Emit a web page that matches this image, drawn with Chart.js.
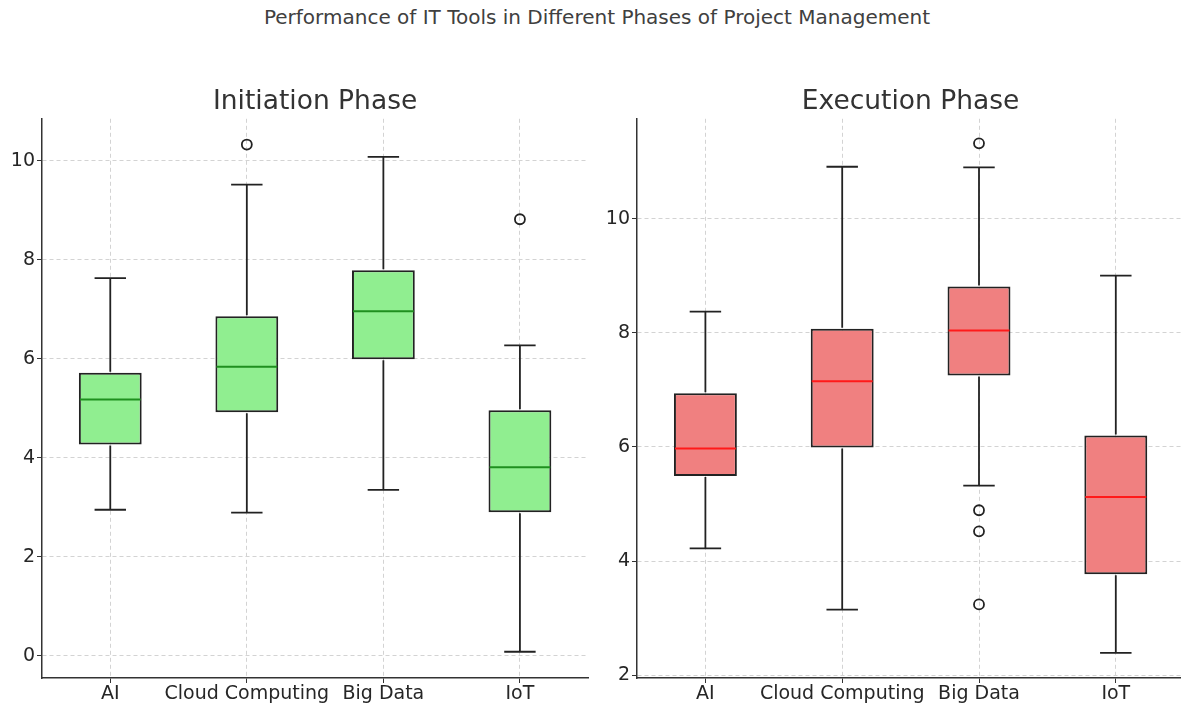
<!DOCTYPE html>
<html>
<head>
<meta charset="utf-8">
<script src="https://cdn.jsdelivr.net/npm/chart.js@4.4.0/dist/chart.umd.min.js"></script>
<style>
  html, body { margin: 0; padding: 0; background: #fff; overflow: hidden; }
  #page { position: relative; width: 1181px; height: 703px; overflow: hidden; }
  #suptitle {
    position: absolute; top: 5px; left: 0; width: 1194px; text-align: center;
    font-family: "DejaVu Sans", sans-serif; font-size: 20px; color: #404040;
  }
  canvas { position: absolute; top: 80px; }
  #left { left: 0; }
  #right { left: 590px; }
</style>
</head>
<body>
<div id="page">
  <div id="suptitle">Performance of IT Tools in Different Phases of Project Management</div>
  <canvas id="left" width="595" height="623"></canvas>
  <canvas id="right" width="601" height="623"></canvas>
</div>
<script>
const tools = ['AI', 'Cloud Computing', 'Big Data', 'IoT'];

// Initiation phase (five-number summaries + outliers)
const initMin    = [2.95, 2.89, 3.35, 0.08];
const initQ1     = [4.27, 4.92, 5.99, 2.90];
const initMedian = [5.18, 5.84, 6.96, 3.81];
const initQ3     = [5.72, 6.86, 7.79, 4.96];
const initMax    = [7.63, 9.52, 10.08, 6.27];
const initOutliers = [[], [10.33], [], [8.82]];
const initTicks = [0, 2, 4, 6, 8, 10];

// Execution phase
const execMin    = [4.22, 3.15, 5.32, 2.39];
const execQ1     = [5.49, 5.99, 7.25, 3.77];
const execMedian = [5.97, 7.15, 8.04, 5.12];
const execQ3     = [6.94, 8.07, 8.81, 6.20];
const execMax    = [8.37, 10.91, 10.90, 9.00];
const execOutliers = [[], [], [11.32, 4.89, 4.52, 3.24], []];
const execTicks = [2, 4, 6, 8, 10];

const boxPlotLines = {
  id: 'boxPlotLines',
  afterDatasetsDraw(chart, args, opts) {
    const ctx = chart.ctx;
    const ys = chart.scales.y;
    const meta = chart.getDatasetMeta(0);
    ctx.save();
    opts.min.forEach((v, i) => {
      const bar = meta.data[i];
      const x = bar.x;
      const half = bar.width / 2;
      const cap = half / 2;
      const yMin = ys.getPixelForValue(opts.min[i]);
      const yMax = ys.getPixelForValue(opts.max[i]);
      const yQ1 = ys.getPixelForValue(opts.q1[i]);
      const yQ3 = ys.getPixelForValue(opts.q3[i]);
      const yMed = ys.getPixelForValue(opts.median[i]);
      ctx.lineWidth = 1.8;
      ctx.strokeStyle = '#222';
      ctx.beginPath();
      ctx.moveTo(x, yQ1 + 1); ctx.lineTo(x, yMin);
      ctx.moveTo(x - cap, yMin); ctx.lineTo(x + cap, yMin);
      ctx.moveTo(x, yQ3 - 1); ctx.lineTo(x, yMax);
      ctx.moveTo(x - cap, yMax); ctx.lineTo(x + cap, yMax);
      ctx.stroke();
      ctx.lineWidth = 2;
      ctx.strokeStyle = opts.medianColor;
      ctx.beginPath();
      ctx.moveTo(x - half + 1, yMed); ctx.lineTo(x + half - 1, yMed);
      ctx.stroke();
    });
    ctx.restore();
  }
};

function makeChart(id, title, q1, q3, med, mn, mx, outliers, ticks, yMin, yMax, axisWidth, fill, medColor, padRight) {
  const outlierPoints = [];
  outliers.forEach((list, i) => list.forEach(v => outlierPoints.push({ x: tools[i], y: v })));
  return new Chart(document.getElementById(id), {
    type: 'bar',
    data: {
      labels: tools,
      datasets: [{
        data: q1.map((v, i) => [v, q3[i]]),
        backgroundColor: fill,
        borderColor: '#222',
        borderWidth: 2,
        borderSkipped: false,
        barPercentage: 0.46,
        categoryPercentage: 1
      }, {
        type: 'line',
        data: outlierPoints,
        showLine: false,
        pointRadius: 5,
        pointBorderWidth: 1.8,
        pointBackgroundColor: 'rgba(255,255,255,0)',
        pointBorderColor: '#222'
      }]
    },
    options: {
      responsive: false,
      animation: false,
      layout: { padding: { left: 0, right: padRight, top: 0, bottom: 0 } },
      scales: {
        x: {
          grid: {
            offset: false,
            color: '#d3d3d3',
            tickColor: '#333',
            tickBorderDash: [],
            tickLength: 5
          },
          border: { display: true, color: '#333', width: 1.5, dash: [4, 3] },
          ticks: { color: '#262626', font: { family: 'DejaVu Sans', size: 19 }, padding: 0, maxRotation: 0, autoSkip: false },
          afterFit: s => { s.height = 25; }
        },
        y: {
          min: yMin,
          max: yMax,
          grid: {
            color: '#d3d3d3',
            tickColor: '#333',
            tickBorderDash: [],
            tickLength: 5
          },
          border: { display: true, color: '#333', width: 1.5, dash: [4, 3] },
          ticks: { color: '#262626', font: { family: 'DejaVu Sans', size: 19 }, padding: 2 },
          afterBuildTicks: s => { s.ticks = ticks.map(v => ({ value: v })); },
          afterFit: s => { s.width = axisWidth; }
        }
      },
      plugins: {
        legend: { display: false },
        tooltip: { enabled: false },
        title: {
          display: true,
          fullSize: false,
          text: title,
          color: '#333',
          font: { family: 'DejaVu Sans', size: 26.5, weight: 'normal' },
          padding: { top: 6, bottom: 1 }
        },
        boxPlotLines: { min: mn, max: mx, q1: q1, q3: q3, median: med, medianColor: medColor }
      }
    },
    plugins: [boxPlotLines]
  });
}

makeChart('left', 'Initiation Phase', initQ1, initQ3, initMedian, initMin, initMax, initOutliers,
  initTicks, -0.45, 10.85, 42, '#90EE90', '#1f8f1f', 3);
makeChart('right', 'Execution Phase', execQ1, execQ3, execMedian, execMin, execMax, execOutliers,
  execTicks, 1.95, 11.75, 47, '#F08080', '#ff1a1a', 0);
</script>
</body>
</html>
